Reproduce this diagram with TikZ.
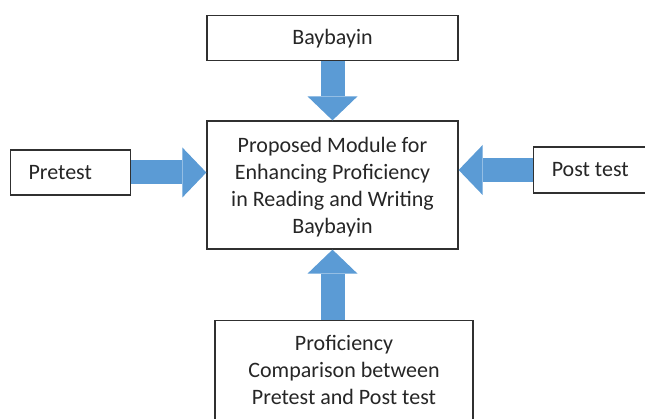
\documentclass[tikz,border=0pt]{standalone}
\usepackage{fontspec}
\setmainfont{Carlito}
\usetikzlibrary{arrows.meta, positioning}
\definecolor{arrowblue}{HTML}{5B9BD5}
\definecolor{boxline}{HTML}{303030}
\definecolor{txtgray}{HTML}{262626}

\begin{document}
\begin{tikzpicture}[
    x=1pt, y=-1pt,
    font=\fontsize{22}{27}\selectfont,
    box/.style={
        rectangle,
        draw=boxline,
        line width=1.3pt,
        fill=white,
        text=txtgray,
        align=center,
        inner sep=0pt
    },
    blockarrow/.style={
        draw=arrowblue,
        line width=24pt,
        -{Triangle[length=24pt, width=50pt, line width=0pt]}
    }
]
    \useasboundingbox (0,0) rectangle (645,419);
    \clip (0,0) rectangle (645,419);

    \node (module) [box, minimum width=251pt, minimum height=128pt] at (332.5,185)
        {\rule{0pt}{19pt}Proposed Module for\\Enhancing Proficiency\\in Reading and Writing\\Baybayin};
    \node (baybayin) [box, minimum width=251pt, minimum height=45pt, above=59pt of module] {Baybayin};
    \node (pretest) [box, minimum width=120pt, minimum height=45pt, left=75pt of module, yshift=12.5pt] {Pretest\hspace*{21pt}};
    \node (posttest) [box, minimum width=114pt, minimum height=46pt, right=74pt of module, yshift=15pt] {Post test};
    \node (comparison) [box, minimum width=258pt, inner ysep=15pt, below=70pt of module, xshift=11.5pt]
        {Proficiency\\Comparison between\\Pretest and Post test\rule[-30pt]{0pt}{0pt}};

    \draw [blockarrow] (baybayin) -- (module);
    \draw [blockarrow] (pretest.east) -- (pretest.east -| module.west);
    \draw [blockarrow] (posttest.west) -- (posttest.west -| module.east);
    \draw [blockarrow] (comparison.north -| module.south) -- (module.south);

\end{tikzpicture}
\end{document}
